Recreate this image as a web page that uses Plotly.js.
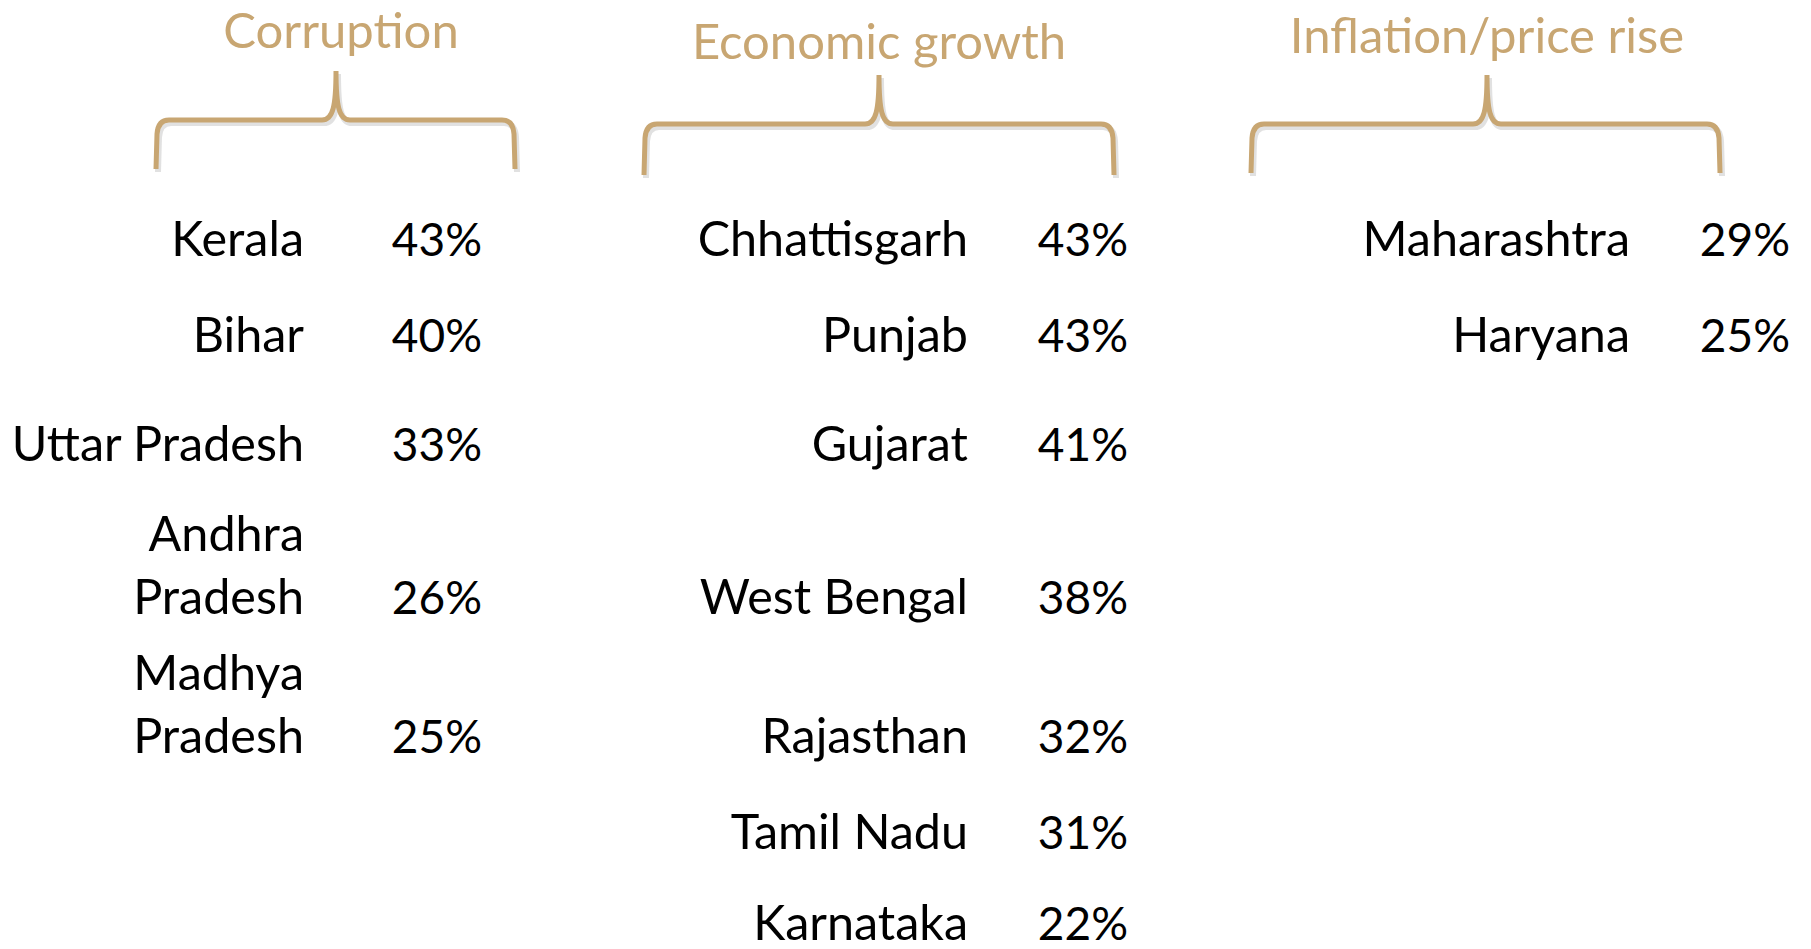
<!DOCTYPE html>
<html>
<head>
<meta charset="utf-8">
<script src="https://cdn.plot.ly/plotly-3.0.1.min.js"></script>
<style>
  html, body { margin: 0; padding: 0; background: #ffffff; }
  #chart { width: 1811px; height: 949px; }
</style>
</head>
<body>
<div id="chart"></div>
<script>
// ---------------- DATA ----------------
const categories = ["Corruption", "Economic growth", "Inflation/price rise"];

const corruptionStates = ["Kerala", "Bihar", "Uttar Pradesh", "Andhra Pradesh", "Madhya Pradesh"];
const corruptionValues = [43, 40, 33, 26, 25];

const growthStates = ["Chhattisgarh", "Punjab", "Gujarat", "West Bengal", "Rajasthan", "Tamil Nadu", "Karnataka"];
const growthValues = [43, 43, 41, 38, 32, 31, 22];

const inflationStates = ["Maharashtra", "Haryana"];
const inflationValues = [29, 25];

// ---------------- LAYOUT / STYLE ----------------
const W = 1811, H = 949;
const FONT = 'Lato, "Open Sans", sans-serif';
const NAME_SIZE = 48.5;
const VALUE_SIZE = 46;
const TITLE_SIZE = 49;
const TAN = '#C8A672';
const LINE_SPACING = 1.3; // plotly's multi-line spacing (em)

// labels that wrap onto two lines in the narrow first column
const WRAPPED = new Set(["Andhra Pradesh", "Madhya Pradesh"]);

// table geometry (pixels)
const ROW_BASELINE = [256, 352, 461, 614, 753, 849, 940];
const COL_NAME_RIGHT = [304, 968, 1630];
const COL_VALUE_RIGHT = [482, 1128, 1790];
const TITLE_CENTER_X = [341, 879, 1487];
const TITLE_BASELINE = [48, 59, 53];
const BRACES = [
  {L: 156, R: 515, M: 336, yH: 120, yTop: 71, yBot: 169},
  {L: 644, R: 1114, M: 879, yH: 124, yTop: 75, yBot: 175},
  {L: 1251, R: 1720, M: 1487, yH: 124, yTop: 75, yBot: 173}
];

const columns = [
  {states: corruptionStates, values: corruptionValues},
  {states: growthStates, values: growthValues},
  {states: inflationStates, values: inflationValues}
];

// y of a scatter-text point so that the LAST line's baseline lands at B
function yForBaseline(B, nLines, f) {
  const N = (nLines - 1) * LINE_SPACING + 1;
  const dy = 0.75 * f - N * f / 2;
  return B - (dy + (nLines - 1) * LINE_SPACING * f);
}

const traces = [];

columns.forEach((col, ci) => {
  const labels = col.states.map(s => WRAPPED.has(s) ? s.replace(' ', '<br>') : s);
  const nLines = labels.map(l => l.split('<br>').length);
  traces.push({
    type: 'scatter', mode: 'text',
    x: labels.map(() => COL_NAME_RIGHT[ci]),
    y: labels.map((l, i) => yForBaseline(ROW_BASELINE[i], nLines[i], NAME_SIZE)),
    text: labels,
    textposition: 'middle left',
    textfont: {family: FONT, size: NAME_SIZE, color: '#000000'},
    cliponaxis: false, hoverinfo: 'skip', showlegend: false
  });
  traces.push({
    type: 'scatter', mode: 'text',
    x: col.values.map(() => COL_VALUE_RIGHT[ci]),
    y: col.values.map((v, i) => yForBaseline(ROW_BASELINE[i], 1, VALUE_SIZE)),
    text: col.values.map(v => v + '%'),
    textposition: 'middle left',
    textfont: {family: FONT, size: VALUE_SIZE, color: '#000000'},
    cliponaxis: false, hoverinfo: 'skip', showlegend: false
  });
});

// category headers
traces.push({
  type: 'scatter', mode: 'text',
  x: TITLE_CENTER_X,
  y: categories.map((c, i) => yForBaseline(TITLE_BASELINE[i], 1, TITLE_SIZE)),
  text: categories,
  textposition: 'middle center',
  textfont: {family: FONT, size: TITLE_SIZE, color: TAN},
  cliponaxis: false, hoverinfo: 'skip', showlegend: false
});

function bracePath(b, ox, oy) {
  const L = b.L + ox, R = b.R + ox, M = b.M + ox;
  const yH = b.yH + oy, yT = b.yTop + oy, yB = b.yBot + oy;
  return `M ${L},${yB} L ${L + 1},${yH + 14} Q ${L + 2},${yH} ${L + 13},${yH} ` +
         `L ${M - 14},${yH} C ${M - 3},${yH} ${M},${yH - 14} ${M},${yT} ` +
         `C ${M},${yH - 14} ${M + 3},${yH} ${M + 14},${yH} ` +
         `L ${R - 13},${yH} Q ${R - 2},${yH} ${R - 1},${yH + 14} L ${R},${yB}`;
}

const shapes = [];
BRACES.forEach(b => {
  shapes.push({type: 'path', xref: 'x', yref: 'y', path: bracePath(b, 2, 3),
               line: {color: 'rgba(90,90,90,0.18)', width: 6}, layer: 'below'});
});
BRACES.forEach(b => {
  shapes.push({type: 'path', xref: 'x', yref: 'y', path: bracePath(b, 0, 0),
               line: {color: TAN, width: 5}, layer: 'above'});
});

const layout = {
  width: W, height: H,
  margin: {l: 0, r: 0, t: 0, b: 0, pad: 0},
  paper_bgcolor: '#ffffff', plot_bgcolor: '#ffffff',
  xaxis: {range: [0, W], visible: false, fixedrange: true},
  yaxis: {range: [H, 0], visible: false, fixedrange: true},
  showlegend: false,
  hovermode: false,
  shapes: shapes
};

Plotly.newPlot('chart', traces, layout, {staticPlot: true, displayModeBar: false});
</script>
</body>
</html>
